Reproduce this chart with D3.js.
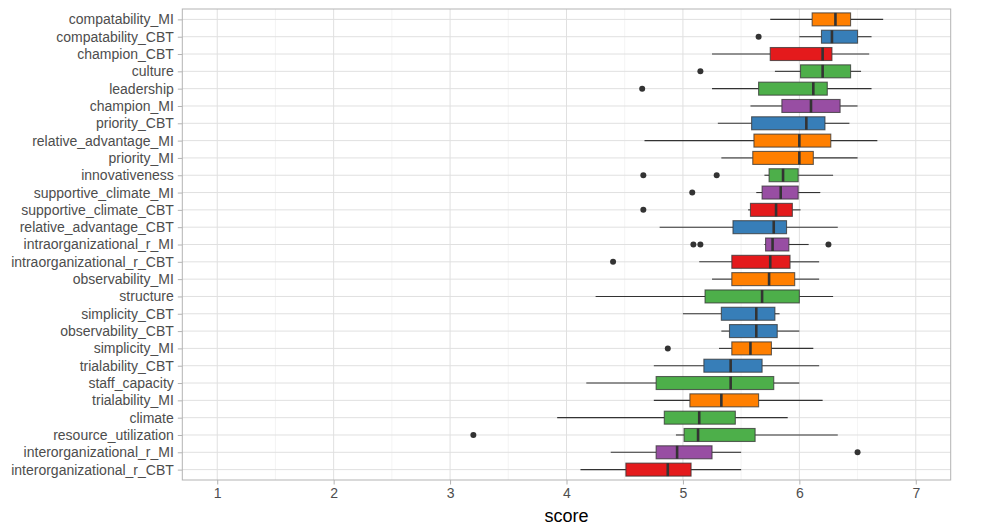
<!DOCTYPE html>
<html>
<head>
<meta charset="utf-8">
<script src="https://cdn.jsdelivr.net/npm/d3@7"></script>
<style>
  body { margin: 0; background: #fff; }
  svg { display: block; font-family: "Liberation Sans", Arial, sans-serif; }
  .axis path { display: none; }
  .axis line { stroke: #b3b3b3; }
  .axis text { fill: #4d4d4d; font-size: 14px; }
</style>
</head>
<body>
<div id="chart"></div>
<script>
// categories from top to bottom
const categories = [
  'compatability_MI', 'compatability_CBT', 'champion_CBT', 'culture', 'leadership',
  'champion_MI', 'priority_CBT', 'relative_advantage_MI', 'priority_MI', 'innovativeness',
  'supportive_climate_MI', 'supportive_climate_CBT', 'relative_advantage_CBT',
  'intraorganizational_r_MI', 'intraorganizational_r_CBT', 'observability_MI', 'structure',
  'simplicity_CBT', 'observability_CBT', 'simplicity_MI', 'trialability_CBT', 'staff_capacity',
  'trialability_MI', 'climate', 'resource_utilization', 'interorganizational_r_MI',
  'interorganizational_r_CBT'
];
const groups = [
  'imMI', 'imCBT', 'ibCBT', 'inner', 'inner',
  'ibMI', 'imCBT', 'imMI', 'imMI', 'inner',
  'ibMI', 'ibCBT', 'imCBT',
  'ibMI', 'ibCBT', 'imMI', 'inner',
  'imCBT', 'imCBT', 'imMI', 'imCBT', 'inner',
  'imMI', 'inner', 'inner', 'ibMI',
  'ibCBT'
];
const whiskerLow = [5.75, 6.00, 5.25, 5.79, 5.25, 5.58, 5.30, 4.67, 5.33, 5.70,
  5.63, 5.56, 4.80, 5.70, 5.14, 5.25, 4.25, 5.00, 5.33, 5.31, 4.75, 4.17, 4.75, 3.92, 4.94, 4.38, 4.12];
const q1 = [6.11, 6.19, 5.75, 6.01, 5.65, 5.85, 5.59, 5.61, 5.60, 5.74,
  5.68, 5.58, 5.43, 5.71, 5.42, 5.42, 5.19, 5.33, 5.40, 5.42, 5.18, 4.77, 5.06, 4.84, 5.01, 4.77, 4.51];
const medians = [6.31, 6.28, 6.20, 6.20, 6.12, 6.10, 6.06, 6.00, 6.00, 5.86,
  5.84, 5.80, 5.78, 5.77, 5.75, 5.74, 5.68, 5.63, 5.63, 5.58, 5.41, 5.41, 5.33, 5.14, 5.13, 4.95, 4.87];
const q3 = [6.44, 6.50, 6.28, 6.44, 6.24, 6.35, 6.22, 6.27, 6.12, 5.99,
  5.99, 5.94, 5.89, 5.91, 5.92, 5.96, 6.00, 5.79, 5.81, 5.76, 5.68, 5.78, 5.65, 5.45, 5.62, 5.25, 5.07];
const whiskerHigh = [6.72, 6.62, 6.60, 6.53, 6.62, 6.50, 6.43, 6.67, 6.50, 6.29,
  6.18, 6.01, 6.33, 6.08, 6.17, 6.17, 6.29, 5.83, 6.00, 6.12, 6.17, 6.00, 6.20, 5.90, 6.33, 5.50, 5.50];
const outliers = [[], [5.65], [], [5.15], [4.65], [], [], [], [], [4.66, 5.29],
  [5.08], [4.66], [], [5.09, 5.15, 6.25], [4.40], [], [], [], [], [4.87], [], [], [], [], [3.20], [6.50], []];
const xTicks = [1, 2, 3, 4, 5, 6, 7];

const groupColors = {
  ibCBT: '#E41A1C', imCBT: '#377EB8', inner: '#4DAF4A', ibMI: '#984EA3', imMI: '#FF7F00'
};

const width = 993;
const height = 527;
const panel = { left: 182.3, right: 950.7, top: 9, bottom: 480 };

const rows = categories.map((c, i) => ({
  name: c,
  group: groups[i],
  lo: whiskerLow[i],
  q1: q1[i],
  med: medians[i],
  q3: q3[i],
  hi: whiskerHigh[i],
  out: outliers[i],
}));

const svg = d3.select('#chart').append('svg')
  .attr('width', width)
  .attr('height', height);

const xScale = d3.scaleLinear().domain([0.7, 7.3]).range([panel.left, panel.right]);
const yScale = d3.scalePoint().domain(categories).range([panel.top, panel.bottom]).padding(0.6);
const boxH = yScale.step() * 0.75;

// gridlines
const grid = svg.append('g').attr('class', 'grid');
const minor = d3.range(0.5, 7.5, 1).filter((d) => xScale(d) > panel.left);
grid.selectAll('line.minor').data(minor).join('line')
  .attr('x1', (d) => xScale(d)).attr('x2', (d) => xScale(d))
  .attr('y1', panel.top).attr('y2', panel.bottom)
  .attr('stroke', '#ededed').attr('stroke-width', 0.6);
grid.selectAll('line.majx').data(xTicks).join('line')
  .attr('x1', (d) => xScale(d)).attr('x2', (d) => xScale(d))
  .attr('y1', panel.top).attr('y2', panel.bottom)
  .attr('stroke', '#e0e0e0').attr('stroke-width', 1);
grid.selectAll('line.majy').data(categories).join('line')
  .attr('x1', panel.left).attr('x2', panel.right)
  .attr('y1', (d) => yScale(d)).attr('y2', (d) => yScale(d))
  .attr('stroke', '#e0e0e0').attr('stroke-width', 1);

// boxes
const boxes = svg.append('g').selectAll('g').data(rows).join('g')
  .attr('transform', (d) => `translate(0, ${yScale(d.name)})`);

boxes.append('line')
  .attr('x1', (d) => xScale(d.lo)).attr('x2', (d) => xScale(d.q1))
  .attr('stroke', '#333').attr('stroke-width', 1.1);
boxes.append('line')
  .attr('x1', (d) => xScale(d.q3)).attr('x2', (d) => xScale(d.hi))
  .attr('stroke', '#333').attr('stroke-width', 1.1);
boxes.append('rect')
  .attr('x', (d) => xScale(d.q1))
  .attr('width', (d) => xScale(d.q3) - xScale(d.q1))
  .attr('y', -boxH / 2)
  .attr('height', boxH)
  .attr('fill', (d) => groupColors[d.group])
  .attr('stroke', '#333').attr('stroke-opacity', 0.75).attr('stroke-width', 1.1);
boxes.append('line')
  .attr('x1', (d) => xScale(d.med)).attr('x2', (d) => xScale(d.med))
  .attr('y1', -boxH / 2).attr('y2', boxH / 2)
  .attr('stroke', '#333').attr('stroke-width', 2.6);
boxes.selectAll('circle').data((d) => d.out).join('circle')
  .attr('cx', (d) => xScale(d)).attr('cy', 0).attr('r', 3)
  .attr('fill', '#333');

// panel border
svg.append('rect')
  .attr('x', panel.left).attr('y', panel.top)
  .attr('width', panel.right - panel.left).attr('height', panel.bottom - panel.top)
  .attr('fill', 'none').attr('stroke', '#b3b3b3').attr('stroke-width', 1);

// axes
svg.append('g').attr('class', 'axis')
  .attr('transform', `translate(0, ${panel.bottom})`)
  .call(d3.axisBottom(xScale).tickValues(xTicks).tickSize(4.5).tickPadding(4).tickFormat(d3.format('d')));

svg.append('g').attr('class', 'axis')
  .attr('transform', `translate(${panel.left}, 0)`)
  .call(d3.axisLeft(yScale).tickSize(4.5).tickPadding(4));

svg.append('text')
  .attr('x', (panel.left + panel.right) / 2)
  .attr('y', 522)
  .attr('text-anchor', 'middle')
  .attr('fill', '#000')
  .style('font-size', '18px')
  .text('score');
</script>
</body>
</html>
